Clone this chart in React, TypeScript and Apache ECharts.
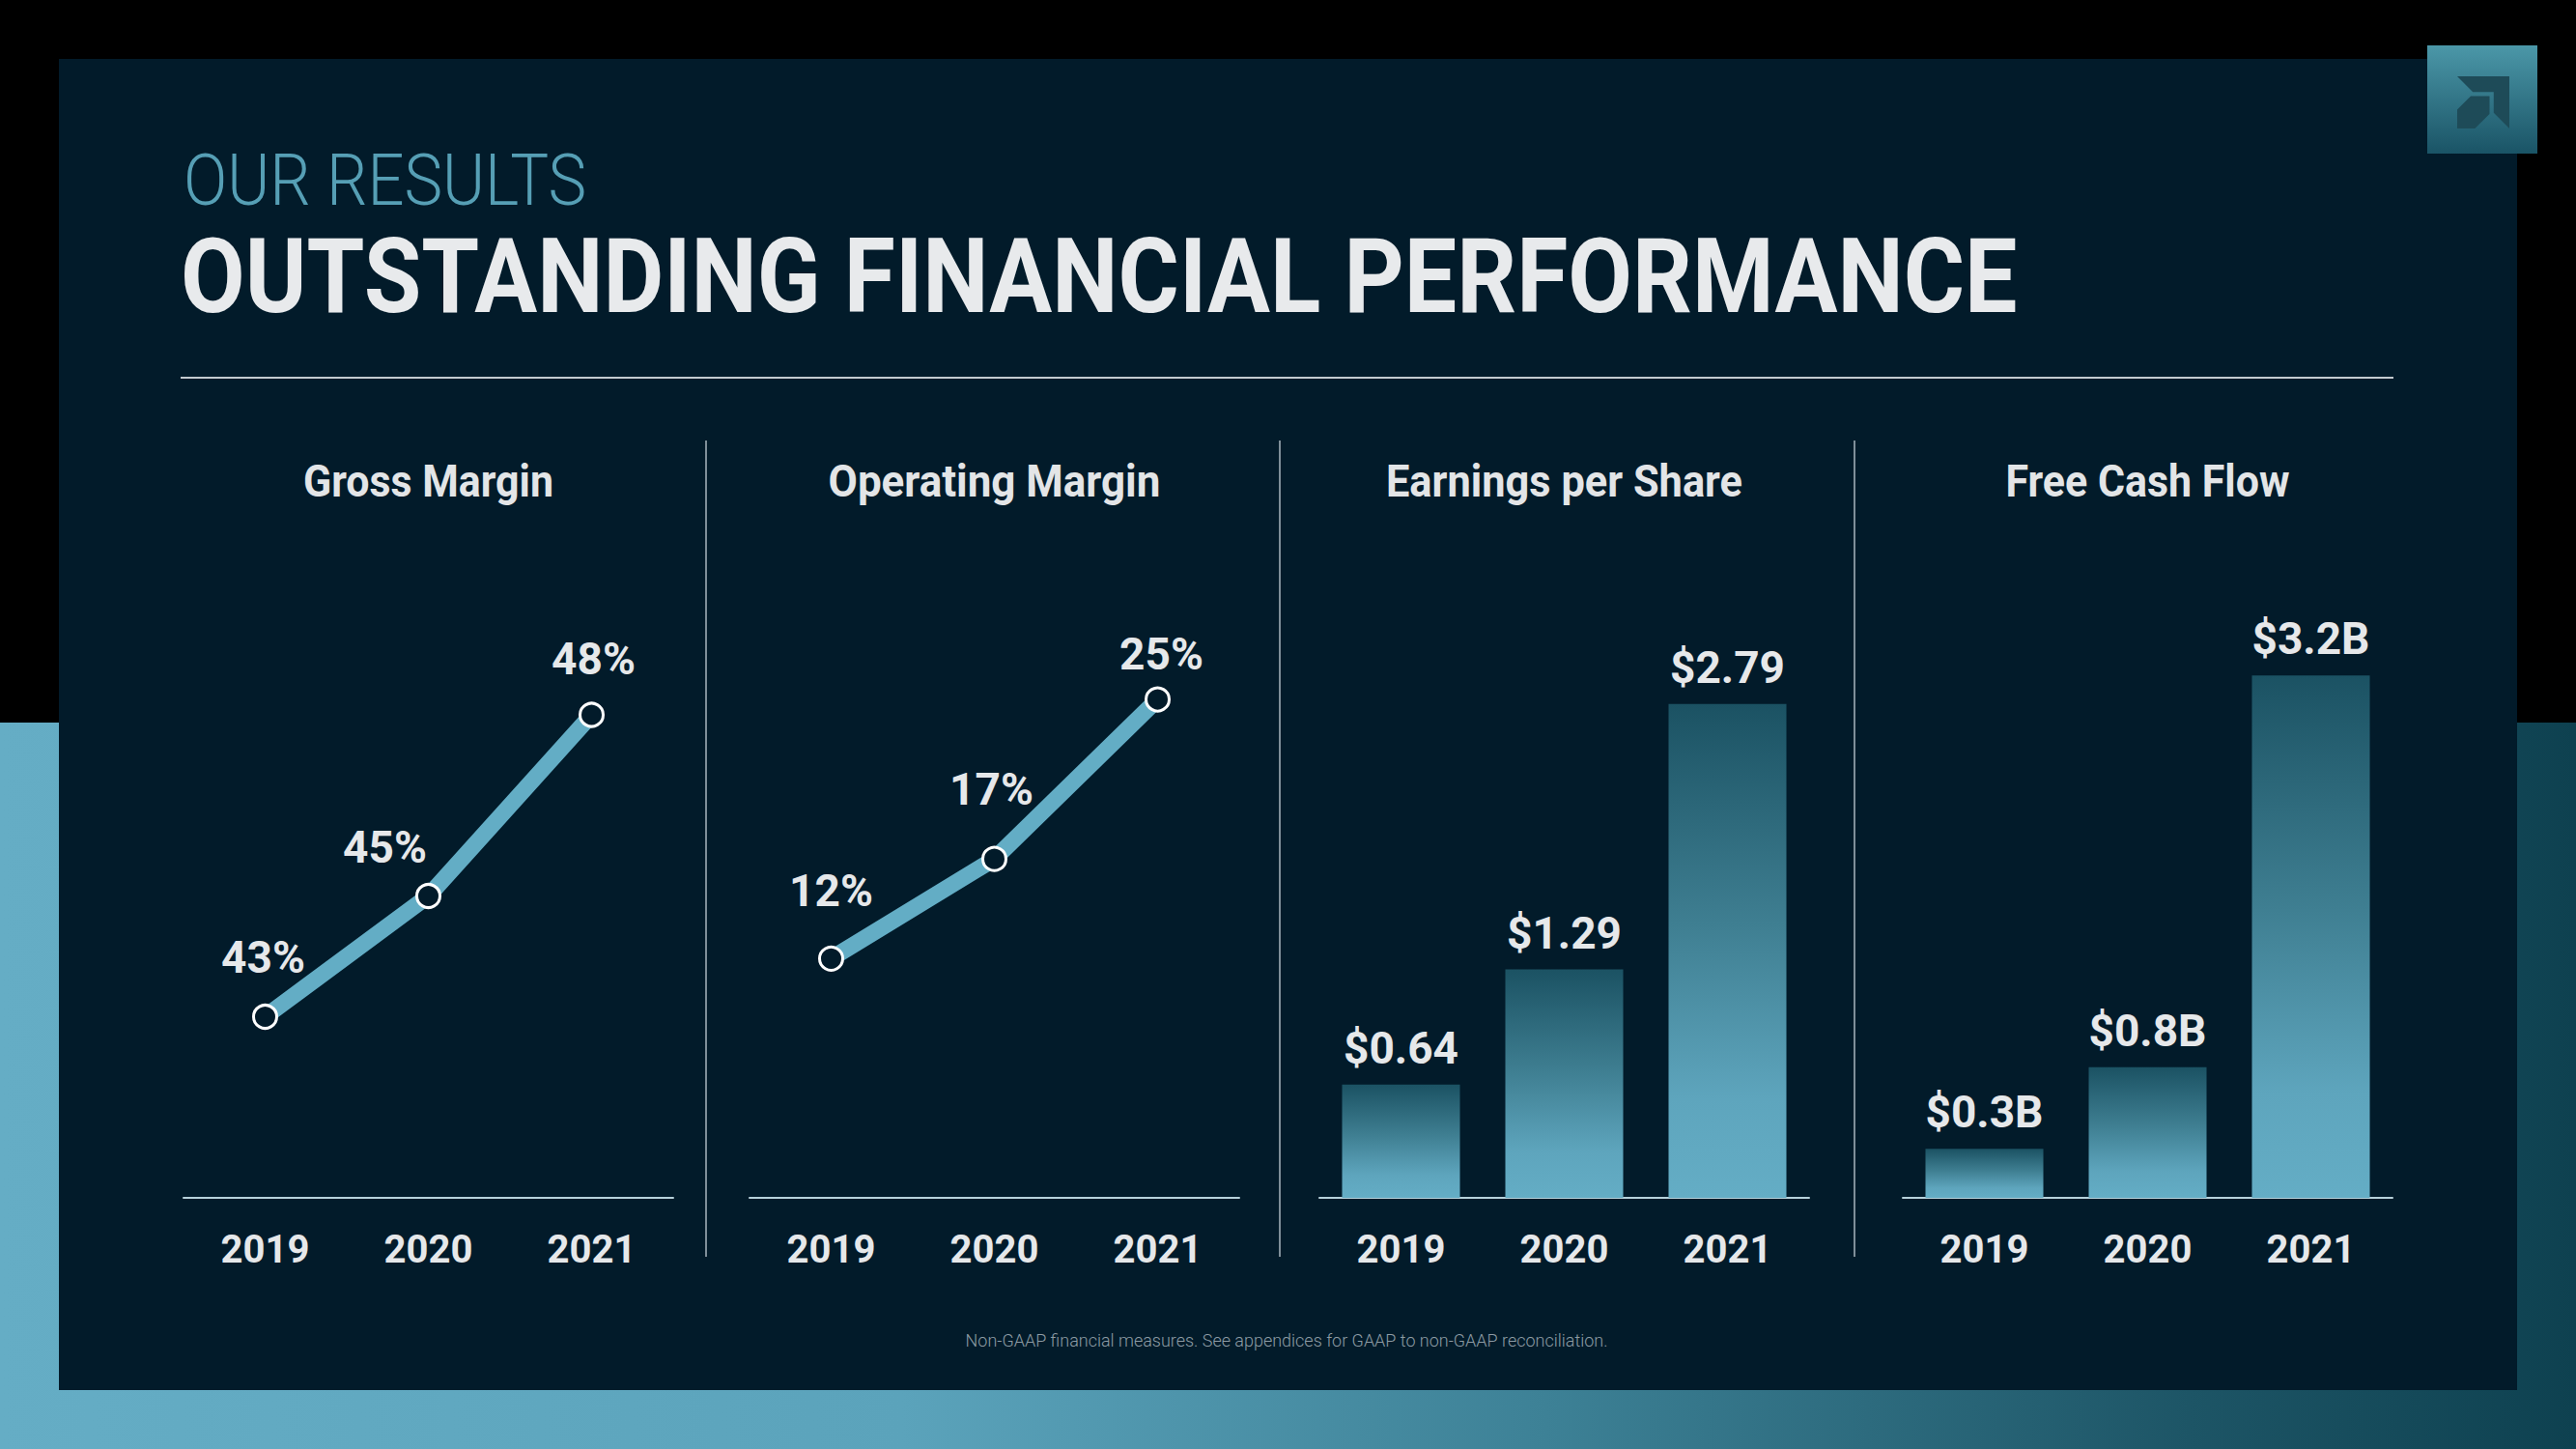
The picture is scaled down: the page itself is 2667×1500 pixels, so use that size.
import React, { useEffect, useRef } from "react";
import * as echarts from "echarts";

// ---- data ----
const years = ["2019", "2020", "2021"];
const grossMargin = [43, 45, 48];
const operatingMargin = [12, 17, 25];
const eps = [0.64, 1.29, 2.79];
const freeCashFlow = [0.3, 0.8, 3.2];

const panelTitles = ["Gross Margin", "Operating Margin", "Earnings per Share", "Free Cash Flow"];
const kicker = "OUR RESULTS";
const headline = "OUTSTANDING FINANCIAL PERFORMANCE";
const footnote = "Non-GAAP financial measures. See appendices for GAAP to non-GAAP reconciliation.";

// ---- styling / layout ----
const gmLabelOffset = [[-2, -62], [-45, -51], [2, -58]];
const omLabelOffset = [[0, -70], [-3, -72], [4, -47]];
const gridDefs = [
  { left: 190, top: 490, width: 507, height: 750, min: 40, max: 52 },
  { left: 776, top: 497, width: 507, height: 743, min: 0, max: 36 },
  { left: 1366, top: 507, width: 507, height: 733, min: 0, max: 4 },
  { left: 1970, top: 564, width: 507, height: 676, min: 0, max: 4 },
];
const titleWidths = [259, 344, 369, 294];

const FONT = "Roboto";
const PANEL = "#021b2a";
const LINE_COLOR = "#63adc5";
const LABEL_COLOR = "#e6e8ea";

function fitScale(text: string, weight: string | number, size: number, target: number) {
  const c = document.createElement("canvas").getContext("2d");
  if (!c) return 1;
  c.font = `${weight} ${size}px ${FONT}`;
  const w = c.measureText(text).width;
  return w > 0 ? target / w : 1;
}

function barGradient() {
  return new echarts.graphic.LinearGradient(0, 0, 0, 1, [
    { offset: 0, color: "#1b5263" },
    { offset: 0.45, color: "#3f7f92" },
    { offset: 0.8, color: "#5ea5bd" },
    { offset: 1, color: "#64adc5" },
  ]);
}

export default function App() {
  const ref = useRef<HTMLDivElement>(null);

  useEffect(() => {
    document.body.style.margin = "0";
    if (!ref.current) return;
    const chart = echarts.init(ref.current, undefined, { renderer: "svg" });

    const logoScale = 0.54;
    const lx = 2544;
    const ly = 79;
    const mapPts = (pts: number[][]) => pts.map(([x, y]) => [lx + x * logoScale, ly + y * logoScale]);

    const graphic: any[] = [
      {
        type: "rect",
        shape: { x: 0, y: 748, width: 2667, height: 752 },
        style: {
          fill: new echarts.graphic.LinearGradient(0, 0, 1, 0, [
            { offset: 0, color: "#65adc5" },
            { offset: 0.35, color: "#5ba3bb" },
            { offset: 0.6, color: "#3d8196" },
            { offset: 0.85, color: "#1d5566" },
            { offset: 1, color: "#0e4150" },
          ]),
        },
        silent: true,
      },
      {
        type: "rect",
        shape: { x: 61, y: 61, width: 2545, height: 1378 },
        style: { fill: PANEL },
        silent: true,
      },
      {
        type: "rect",
        shape: { x: 2513, y: 47, width: 114, height: 112 },
        style: {
          fill: new echarts.graphic.LinearGradient(0, 0, 0, 1, [
            { offset: 0, color: "#4b97a8" },
            { offset: 1, color: "#1a5466" },
          ]),
        },
        silent: true,
      },
      {
        type: "polygon",
        shape: { points: mapPts([[0, 0], [100, 0], [100, 100], [70, 70], [70, 30], [30, 30]]) },
        style: { fill: "#1e4b58" },
        silent: true,
      },
      {
        type: "polygon",
        shape: { points: mapPts([[26, 38], [62, 38], [62, 72], [34, 100], [0, 100], [0, 64]]) },
        style: { fill: "#1e4b58" },
        silent: true,
      },
      {
        type: "text",
        x: 190,
        y: 187,
        scaleX: fitScale(kicker, 300, 74, 417),
        style: {
          text: kicker,
          fontFamily: FONT,
          fontWeight: 300,
          fontSize: 74,
          align: "left",
          verticalAlign: "middle",
          fill: "#569fb5",
        },
        silent: true,
      },
      {
        type: "text",
        x: 187,
        y: 286,
        scaleX: fitScale(headline, "bold", 108, 1902),
        style: {
          text: headline,
          fontFamily: FONT,
          fontWeight: "bold",
          fontSize: 108,
          align: "left",
          verticalAlign: "middle",
          fill: "#e8eaec",
        },
        silent: true,
      },
      {
        type: "line",
        shape: { x1: 187, y1: 391, x2: 2478, y2: 391 },
        style: { stroke: "#c3cacf", lineWidth: 2 },
        silent: true,
      },
      ...[731, 1325, 1920].map((x) => ({
        type: "line",
        shape: { x1: x, y1: 456, x2: x, y2: 1301 },
        style: { stroke: "#7f8f99", lineWidth: 2 },
        silent: true,
      })),
      ...panelTitles.map((t, i) => ({
        type: "text",
        x: gridDefs[i].left + gridDefs[i].width / 2,
        y: 498,
        scaleX: fitScale(t, "bold", 47, titleWidths[i]),
        style: {
          text: t,
          fontFamily: FONT,
          fontWeight: "bold",
          fontSize: 47,
          align: "center",
          verticalAlign: "middle",
          fill: "#e3e5e7",
        },
        silent: true,
      })),
      {
        type: "text",
        x: 1332,
        y: 1388,
        scaleX: fitScale(footnote, 300, 19, 665),
        style: {
          text: footnote,
          fontFamily: FONT,
          fontWeight: 300,
          fontSize: 19,
          align: "center",
          verticalAlign: "middle",
          fill: "#8d9ba4",
        },
        silent: true,
      },
    ];

    const valueLabel = {
      show: true,
      color: LABEL_COLOR,
      fontFamily: FONT,
      fontWeight: "bold" as const,
      fontSize: 46,
    };

    const lineSeries = (idx: number, values: number[], offsets: number[][]) => ({
      type: "line",
      xAxisIndex: idx,
      yAxisIndex: idx,
      data: values.map((v, i) => ({ value: v, label: { offset: offsets[i] } })),
      symbol: "circle",
      symbolSize: 24,
      lineStyle: { color: LINE_COLOR, width: 17 },
      itemStyle: { color: PANEL, borderColor: "#ffffff", borderWidth: 3 },
      label: { ...valueLabel, position: "inside", formatter: (p: any) => `${p.value}%` },
      z: 3,
    });

    const barSeries = (idx: number, values: number[], fmt: (v: number) => string) => ({
      type: "bar",
      xAxisIndex: idx,
      yAxisIndex: idx,
      data: values,
      barWidth: 122,
      itemStyle: { color: barGradient() },
      label: { ...valueLabel, position: "top", distance: 15, formatter: (p: any) => fmt(p.value) },
    });

    const option: any = {
      animation: false,
      backgroundColor: "#000000",
      graphic,
      grid: gridDefs.map((g) => ({ left: g.left, top: g.top, width: g.width, height: g.height, containLabel: false })),
      xAxis: gridDefs.map((_, i) => ({
        gridIndex: i,
        type: "category",
        data: years,
        boundaryGap: true,
        axisLine: { show: true, onZero: false, lineStyle: { color: "#b7d1da", width: 2 } },
        axisTick: { show: false },
        splitLine: { show: false },
        axisLabel: {
          color: LABEL_COLOR,
          fontFamily: FONT,
          fontWeight: "bold",
          fontSize: 40,
          margin: 33,
        },
      })),
      yAxis: gridDefs.map((g, i) => ({
        gridIndex: i,
        type: "value",
        min: g.min,
        max: g.max,
        show: false,
        splitLine: { show: false },
      })),
      series: [
        lineSeries(0, grossMargin, gmLabelOffset),
        lineSeries(1, operatingMargin, omLabelOffset),
        barSeries(2, eps, (v) => `$${v.toFixed(2)}`),
        barSeries(3, freeCashFlow, (v) => `$${v.toFixed(1)}B`),
      ],
    };

    chart.setOption(option);
    return () => chart.dispose();
  }, []);

  return (
    <div
      ref={ref}
      style={{ position: "fixed", left: 0, top: 0, width: 2667, height: 1500 }}
    />
  );
}
